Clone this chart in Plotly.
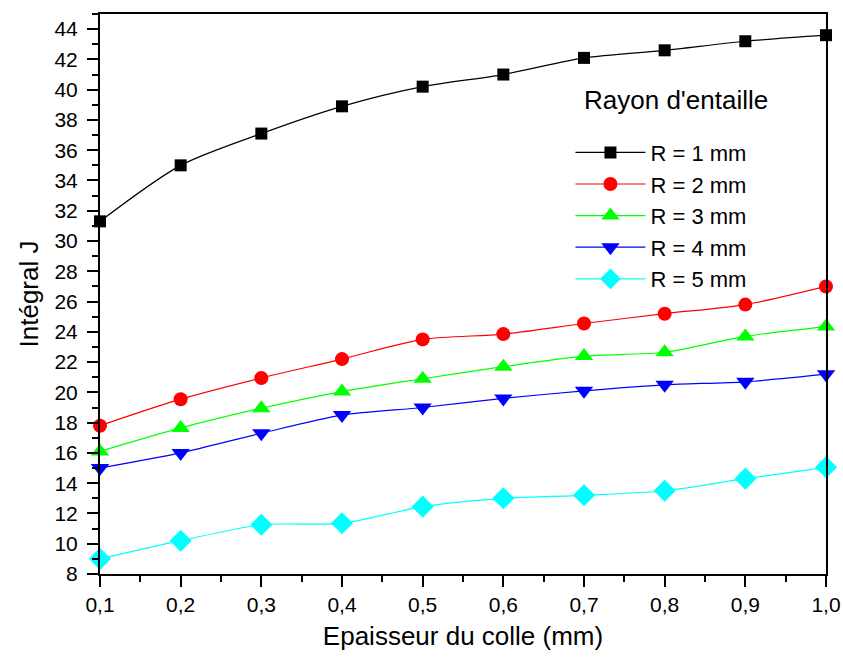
import plotly.graph_objects as go

# Epaisseur du colle (mm)
epaisseur = [0.1, 0.2, 0.3, 0.4, 0.5, 0.6, 0.7, 0.8, 0.9, 1.0]
x_ticktext = ["0,1", "0,2", "0,3", "0,4", "0,5", "0,6", "0,7", "0,8", "0,9", "1,0"]

# Intégral J for each notch radius
j_r1 = [31.3, 35.0, 37.1, 38.9, 40.2, 41.0, 42.1, 42.6, 43.2, 43.6]
j_r2 = [17.8, 19.55, 20.95, 22.2, 23.5, 23.85, 24.55, 25.2, 25.8, 27.0]
j_r3 = [16.1, 17.65, 18.95, 20.05, 20.9, 21.7, 22.4, 22.65, 23.7, 24.35]
j_r4 = [15.0, 16.0, 17.3, 18.5, 19.0, 19.6, 20.1, 20.5, 20.7, 21.2]
j_r5 = [9.0, 10.2, 11.25, 11.35, 12.45, 13.0, 13.2, 13.5, 14.3, 15.05]

y_tickvals = list(range(8, 45, 2))

series = [
    ("R = 1 mm", j_r1, "#000000", "square", 12),
    ("R = 2 mm", j_r2, "#ff0000", "circle", 14),
    ("R = 3 mm", j_r3, "#00ff00", "triangle-up", 16),
    ("R = 4 mm", j_r4, "#0000ff", "triangle-down", 16),
    ("R = 5 mm", j_r5, "#00ffff", "diamond", 17),
]

FONT = "Liberation Sans, Arial, sans-serif"

fig = go.Figure()
for name, vals, color, symbol, size in series:
    fig.add_trace(go.Scatter(
        x=epaisseur, y=vals, name=name, mode="lines+markers",
        line=dict(color=color, width=1.2, shape="spline", smoothing=0.8),
        marker=dict(symbol=symbol, size=size, color=color),
        cliponaxis=False,
    ))

tick_font = dict(family=FONT, size=21, color="black")

fig.update_layout(
    width=843, height=659,
    margin=dict(l=100, r=17, t=14, b=85, autoexpand=False),
    paper_bgcolor="white", plot_bgcolor="white",
    font=dict(family=FONT, color="black"),
    showlegend=True,
    legend=dict(
        x=0.648, y=0.79, xanchor="left", yanchor="top",
        bgcolor="rgba(0,0,0,0)",
        font=dict(size=22, family=FONT),
        itemwidth=70, tracegroupgap=0,
    ),
    annotations=[dict(
        text="Rayon d'entaille", xref="paper", yref="paper",
        x=(582 - 100) / 726, y=1 - (100 - 14) / 560,
        xanchor="left", yanchor="middle", showarrow=False,
        font=dict(size=26, family=FONT, color="black"),
    )],
    xaxis=dict(
        range=[0.1, 1.0], tickvals=epaisseur, ticktext=x_ticktext,
        automargin=False,
        showline=True, linecolor="black", linewidth=2, mirror=True,
        ticks="outside", ticklen=11, tickwidth=2, tickcolor="black",
        minor=dict(ticks="outside", ticklen=6, tickwidth=2, tickcolor="black",
                   dtick=0.05, showgrid=False),
        showgrid=False, zeroline=False, tickfont=tick_font,
        title=dict(text="Epaisseur du colle (mm)", font=dict(size=26), standoff=12),
    ),
    yaxis=dict(
        range=[8, 45], tickvals=y_tickvals,
        automargin=False, ticklabelstandoff=5,
        showline=True, linecolor="black", linewidth=2, mirror=True,
        ticks="outside", ticklen=11, tickwidth=2, tickcolor="black",
        minor=dict(ticks="outside", ticklen=6, tickwidth=2, tickcolor="black",
                   dtick=1, showgrid=False),
        showgrid=False, zeroline=False, tickfont=tick_font,
        title=dict(text="Intégral J", font=dict(size=26), standoff=8),
    ),
)

fig.write_html("out.html")
